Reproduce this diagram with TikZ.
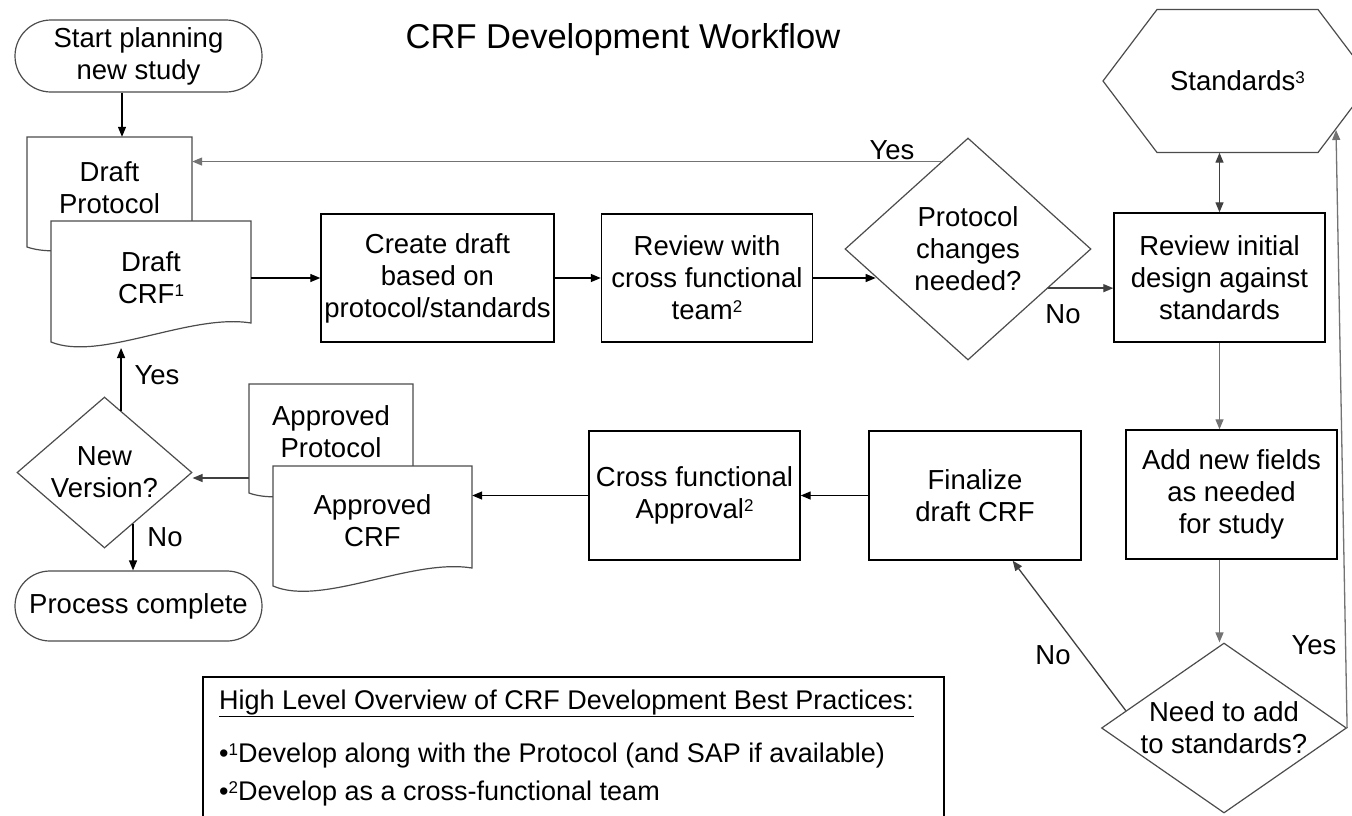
\documentclass[tikz,border=0pt]{standalone}
\usepackage{fontspec}
\setmainfont{Liberation Sans}
\usetikzlibrary{shapes.geometric,shapes.misc,arrows.meta}
\newcommand\supnum[1]{\raisebox{0.25em}{\fontsize{17}{17}\selectfont #1}}
\begin{document}
\begin{tikzpicture}[x=1pt,y=-1pt,
  every node/.style={font=\fontsize{27.5}{32}\selectfont, inner sep=0pt, align=center},
  procbox/.style={draw=black, line width=1.4pt, fill=white, minimum height=128pt},
  shapeline/.style={draw=black!70, line width=1.2pt},
  termbox/.style={rounded rectangle, shapeline, fill=white, minimum width=247pt},
  decision/.style={diamond, shapeline, fill=white},
  arr/.style={-{Triangle[length=10pt,width=8pt]}, line width=1.3pt, draw=black},
  garr/.style={-{Triangle[length=10pt,width=8pt]}, line width=1.3pt, draw=black!55},
  lbl/.style={font=\fontsize{27.5}{32}\selectfont},
  note/.style={anchor=base west, font=\fontsize{27}{32}\selectfont}
]
\useasboundingbox (0,0) rectangle (1352,815);
\fill[white] (0,0) rectangle (1352,815);

% title
\node (title) at (623,40) {\fontsize{34.5}{40}\selectfont CRF Development Workflow};

% terminators
\node[termbox, minimum height=72pt] (start) at (138.5,56) {Start planning\\new study};
\node[termbox, minimum height=70pt] (pc) at (138.5,606) {Process complete};

% draft documents
\draw[shapeline, fill=white] (27,137) -- (192,137) -- (192,235) .. controls (150,228) and (70,262) .. (27,247) -- cycle;
\node[minimum width=165pt, minimum height=101pt] (dp) at (109.5,187.5) {Draft\\Protocol};
\draw[shapeline, fill=white] (51,221) -- (251,221) -- (251,323) .. controls (190,313) and (100,362) .. (51,342) -- cycle;
\node[minimum width=200pt, minimum height=114pt] (dc) at (151,278) {Draft\\CRF\supnum{1}};
\coordinate (dcb) at (121,348);

% approved documents
\draw[shapeline, fill=white] (249,384) -- (413,384) -- (413,480) .. controls (370,474) and (290,508) .. (249,493) -- cycle;
\node[minimum width=164pt, minimum height=96pt] (ap) at (331,432) {Approved\\Protocol};
\draw[shapeline, fill=white] (273,466) -- (472,466) -- (472,568) .. controls (411,558) and (322,607) .. (273,586) -- cycle;
\node[minimum width=199pt, minimum height=110pt] (ac) at (372.5,521) {Approved\\CRF};

% standards hexagon
\draw[shapeline, fill=white] (1103,81) -- (1157,9.5) -- (1318,9.5) -- (1372,81) -- (1318,152.5) -- (1157,152.5) -- cycle;
\node[minimum width=269pt, minimum height=143pt] (std) at (1237.5,81) {Standards\supnum{3}};
\coordinate (stdyes) at (1336,130);

% process boxes
\node[procbox, minimum width=233pt] (cd) at (437.5,278) {Create draft\\based on\\protocol/standards};
\node[procbox, minimum width=211pt] (rev) at (707,278) {Review with\\cross functional\\team\supnum{2}};
\node[procbox, minimum width=211pt, minimum height=129pt] (ri) at (1219.5,277.5) {Review initial\\design against\\standards};
\node[procbox, minimum width=211pt, minimum height=129pt] (an) at (1231.5,494.5) {Add new fields\\as needed\\for study};
\node[procbox, minimum width=212pt, minimum height=129pt] (fin) at (975,495.5) {Finalize\\draft CRF};
\node[procbox, minimum width=211pt, minimum height=129pt] (cf) at (694.5,495.5) {Cross functional\\Approval\supnum{2}};

% decisions
\node[decision, shape aspect=1.11, minimum width=246pt, minimum height=222pt] (pd) at (968,249) {Protocol\\changes\\needed?};
\node[decision, shape aspect=1.16, minimum width=175pt, minimum height=151pt] (nv) at (104.5,472.5) {New\\Version?};
\node[decision, shape aspect=1.44, minimum width=245pt, minimum height=170pt] (need) at (1224,728) {Need to add\\to standards?};

% connectors
\draw[arr] ([xshift=-16.5pt]start.south) -- ([xshift=-16.5pt]start.south |- dp.north);
\draw[arr] (dc.east) -- (cd.west);
\draw[arr] (cd.east) -- (rev.west);
\draw[arr] (rev.east) -- (rev.east -| pd.197);
\draw[garr] (pd.107) -- (pd.107 -| dp.east);
\draw[arr, draw=black!75] (pd.-26) -- (pd.-26 -| ri.west);
\draw[{Triangle[length=10pt,width=8pt]}-{Triangle[length=10pt,width=8pt]}, line width=1.3pt, draw=black!75] (ri.north |- std.south) -- (ri.north);
\draw[garr] (ri.south) -- (ri.south |- an.north);
\draw[garr] (ri.south |- an.south) -- (ri.south |- need.north);
\draw[garr] (need.east) -- (stdyes);
\draw[arr, draw=black!75] (need.170) -- (fin.-60);
\draw[arr] (fin.west) -- (cf.east);
\draw[arr] (cf.west) -- (cf.west -| ac.east);
\draw[arr, draw=black!75] ([yshift=-46pt]ap.west) -- ([yshift=-46pt]ap.west -| nv.east);
\draw[arr] (nv.75) -- (nv.75 |- dcb);
\draw[arr] (nv.-61) -- (nv.-61 |- pc.north);

% labels
\node[lbl] (l1) at (892,150) {Yes};
\node[lbl] (l2) at (1063,314) {No};
\node[lbl] (l3) at (157,375) {Yes};
\node[lbl] (l4) at (165,537) {No};
\node[lbl] (l5) at (1053,655) {No};
\node[lbl] (l6) at (1314,645) {Yes};

% notes box
\draw[line width=1.2pt] (203,677) rectangle (944,830);
\node[note] (n1) at (219,709) {\underline{High Level Overview of CRF Development Best Practices:}};
\node[note] (n2) at (219,762) {•\supnum{1}Develop along with the Protocol (and SAP if available)};
\node[note] (n3) at (219,800) {•\supnum{2}Develop as a cross-functional team};
\end{tikzpicture}
\end{document}
